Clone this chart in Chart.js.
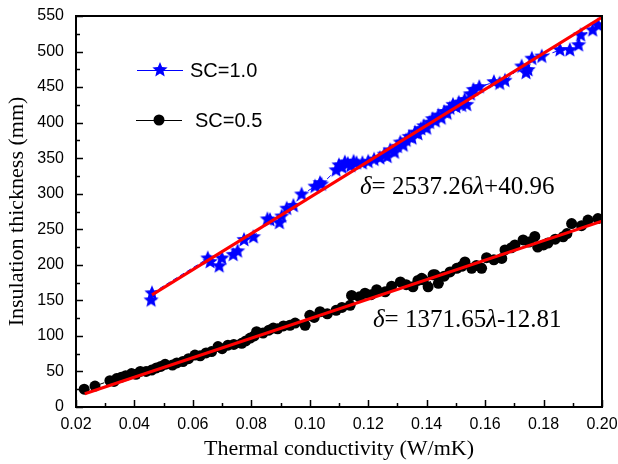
<!DOCTYPE html>
<html>
<head>
<meta charset="utf-8">
<script src="https://cdn.jsdelivr.net/npm/chart.js@4"></script>
<style>
  body { margin: 0; background: #fff; }
  canvas { display: block; }
</style>
</head>
<body>
<canvas id="thick-chart" width="618" height="464"></canvas>
<script>
// SC = 1.0 (blue stars)
const sc1X = [0.0457, 0.0460, 0.0651, 0.0659, 0.0690, 0.0699, 0.0738, 0.0753, 0.0775, 0.0807,
  0.0855, 0.0864, 0.0896, 0.0904, 0.0921, 0.0944, 0.0972, 0.1018, 0.1035, 0.1040,
  0.1090, 0.1100, 0.1110, 0.1120, 0.1130, 0.1140, 0.1150, 0.1160, 0.1180, 0.1200,
  0.1220, 0.1240, 0.1255, 0.1265, 0.1275, 0.1290, 0.1300, 0.1310, 0.1320, 0.1330,
  0.1340, 0.1350, 0.1360, 0.1370, 0.1380, 0.1390, 0.1400, 0.1410, 0.1420, 0.1430,
  0.1440, 0.1450, 0.1460, 0.1470, 0.1480, 0.1490, 0.1500, 0.1510, 0.1520, 0.1530,
  0.1537, 0.1550, 0.1560, 0.1580, 0.1630, 0.1650, 0.1668, 0.1725, 0.1740, 0.1747,
  0.1760, 0.1794, 0.1856, 0.1890, 0.1920, 0.1927, 0.1968, 0.1986];
const sc1Y = [150, 160, 209, 204, 198, 209, 214, 219, 235, 239,
  264, 263, 259, 268, 279, 283, 299, 310, 315, 313,
  333, 340, 337, 344, 342, 339, 345, 343, 343, 345,
  348, 350, 355, 352, 361, 358, 366, 372, 368, 375,
  380, 378, 386, 384, 391, 395, 392, 400, 405, 402,
  410, 406, 415, 413, 420, 425, 422, 428, 424, 432,
  425, 440, 446, 450, 457, 455, 459, 479, 470, 474,
  490, 493, 502, 502, 509, 523, 530, 537];

// SC = 0.5 (black circles)
const sc2X = [0.0228, 0.0265, 0.0316, 0.0330, 0.0339, 0.0355, 0.0370, 0.0390, 0.0405, 0.0420,
  0.0440, 0.0459, 0.0475, 0.0490, 0.0505, 0.0530, 0.0545, 0.0566, 0.0585, 0.0607,
  0.0625, 0.0645, 0.0664, 0.0686, 0.0700, 0.0720, 0.0740, 0.0767, 0.0781, 0.0796,
  0.0810, 0.0818, 0.0840, 0.0860, 0.0875, 0.0890, 0.0910, 0.0932, 0.0950, 0.0984,
  0.1000, 0.1015, 0.1035, 0.1060, 0.1090, 0.1110, 0.1138, 0.1143, 0.1170, 0.1189,
  0.1210, 0.1229, 0.1258, 0.1280, 0.1310, 0.1330, 0.1353, 0.1370, 0.1383, 0.1388,
  0.1405, 0.1422, 0.1429, 0.1440, 0.1460, 0.1480, 0.1503, 0.1520, 0.1531, 0.1554,
  0.1570, 0.1588, 0.1605, 0.1630, 0.1657, 0.1668, 0.1690, 0.1702, 0.1730, 0.1750,
  0.1770, 0.1780, 0.1800, 0.1815, 0.1840, 0.1867, 0.1880, 0.1896, 0.1930, 0.1952, 0.1986];
const sc2Y = [25, 29.5, 37, 36, 40, 42, 44, 47, 46, 50,
  50, 52, 55, 57, 60, 59, 62, 64, 68, 73,
  72, 76, 78, 85, 82, 87, 88, 89.5, 93, 97,
  100, 106, 104, 108, 111, 110, 114, 115, 118, 115,
  129, 126, 134, 131, 136, 140, 143, 157, 155, 160,
  158, 165, 162, 170, 176, 172, 169, 178, 181, 179,
  169, 186, 186, 174, 184, 190, 195, 198, 204, 195,
  199, 195, 210, 207, 209, 221, 224, 228, 235, 232,
  240, 225, 228, 230.7, 236, 239.5, 244, 258, 255, 263, 265];

// linear fits (end points)
const fit1X = [0.046, 0.200];
const fit1Y = [157.7, 548.4];
const fit2X = [0.023, 0.200];
const fit2Y = [18.7, 261.5];

const xTicks = [0.02, 0.04, 0.06, 0.08, 0.10, 0.12, 0.14, 0.16, 0.18, 0.20];
const yTicks = [0, 50, 100, 150, 200, 250, 300, 350, 400, 450, 500, 550];

function pts(xs, ys) {
  return xs.map((x, i) => ({ x: x, y: ys[i] }));
}

// filled star marker
function makeStar(r, color) {
  const c = document.createElement('canvas');
  c.width = c.height = Math.ceil(r * 2 + 2);
  const g = c.getContext('2d');
  const cx = c.width / 2, cy = c.height / 2;
  g.beginPath();
  for (let i = 0; i < 10; i++) {
    const rad = i % 2 === 0 ? r : r * 0.45;
    const a = -Math.PI / 2 + i * Math.PI / 5;
    const px = cx + rad * Math.cos(a), py = cy + rad * Math.sin(a);
    if (i === 0) g.moveTo(px, py); else g.lineTo(px, py);
  }
  g.closePath();
  g.fillStyle = color;
  g.fill();
  return c;
}
const starImg = makeStar(8, '#0000ff');

// frame, inward ticks, legend and equations
const decor = {
  id: 'decor',
  afterDraw(chart) {
    const ctx = chart.ctx;
    const a = chart.chartArea;
    const xs = chart.scales.x, ys = chart.scales.y;
    ctx.save();
    ctx.strokeStyle = '#000';
    ctx.lineWidth = 1.5;
    ctx.beginPath();
    for (let v = 0.02; v <= 0.2001; v += 0.01) {
      const px = Math.round(xs.getPixelForValue(v)) + 0.5;
      const major = Math.round(v * 100) % 2 === 0;
      const len = major ? 7 : 4;
      ctx.moveTo(px, a.bottom); ctx.lineTo(px, a.bottom - len);
    }
    for (let v = 0; v <= 550; v += 25) {
      const py = Math.round(ys.getPixelForValue(v)) + 0.5;
      const len = v % 50 === 0 ? 7 : 4;
      ctx.moveTo(a.left, py); ctx.lineTo(a.left + len, py);
    }
    ctx.stroke();
    ctx.lineWidth = 2;
    ctx.strokeRect(a.left, a.top, a.right - a.left, a.bottom - a.top);

    // legend
    ctx.lineWidth = 1;
    ctx.strokeStyle = '#0000ff';
    ctx.beginPath(); ctx.moveTo(137, 70.5); ctx.lineTo(183, 70.5); ctx.stroke();
    ctx.drawImage(starImg, 160 - starImg.width / 2, 70 - starImg.height / 2);
    ctx.strokeStyle = '#000';
    ctx.beginPath(); ctx.moveTo(136, 120.5); ctx.lineTo(182, 120.5); ctx.stroke();
    ctx.fillStyle = '#000';
    ctx.beginPath(); ctx.arc(159, 120, 5.5, 0, Math.PI * 2); ctx.fill();
    ctx.font = '20px "Liberation Sans", Arial, sans-serif';
    ctx.textBaseline = 'middle';
    ctx.fillText('SC=1.0', 190, 71);
    ctx.fillText('SC=0.5', 195, 121);

    // fit equations
    drawEq(ctx, 360, 187, '2537.26', '+40.96');
    drawEq(ctx, 373, 320, '1371.65', '-12.81');
    ctx.restore();
  }
};

function drawEq(ctx, x, y, k, b) {
  const it = 'italic 25px "Liberation Serif", "Times New Roman", serif';
  const rm = '25px "Liberation Serif", "Times New Roman", serif';
  const parts = [[it, '\u03b4'], [rm, '= ' + k], [it, '\u03bb'], [rm, b]];
  ctx.fillStyle = '#000';
  ctx.textBaseline = 'middle';
  let cx = x;
  parts.forEach(p => {
    ctx.font = p[0];
    ctx.fillText(p[1], cx, y);
    cx += ctx.measureText(p[1]).width;
  });
}

const thickConfig = {
  type: 'scatter',
  data: {
    datasets: [
      {
        label: 'fit SC=1.0',
        data: pts(fit1X, fit1Y),
        showLine: true,
        borderColor: '#ff0000',
        borderWidth: 3,
        pointRadius: 0,
        order: 0
      },
      {
        label: 'fit SC=0.5',
        data: pts(fit2X, fit2Y),
        showLine: true,
        borderColor: '#ff0000',
        borderWidth: 3,
        pointRadius: 0,
        order: 0
      },
      {
        label: 'SC=1.0',
        data: pts(sc1X, sc1Y),
        showLine: true,
        borderColor: '#0000ff',
        borderWidth: 1,
        borderDash: [5, 3],
        pointStyle: starImg,
        order: 1
      },
      {
        label: 'SC=0.5',
        data: pts(sc2X, sc2Y),
        showLine: true,
        borderColor: '#000000',
        borderWidth: 1,
        borderDash: [5, 3],
        pointStyle: 'circle',
        pointRadius: 5.5,
        backgroundColor: '#000000',
        pointBorderWidth: 0,
        order: 1
      }
    ]
  },
  options: {
    responsive: false,
    animation: false,
    layout: { padding: { top: 16, right: 16, left: 0, bottom: 0 } },
    plugins: {
      legend: { display: false },
      tooltip: { enabled: false }
    },
    scales: {
      x: {
        type: 'linear',
        min: 0.02,
        max: 0.20,
        afterFit(s) { s.height = 57; s.paddingLeft = 0; s.paddingRight = 0; },
        afterBuildTicks(s) { s.ticks = xTicks.map(v => ({ value: v })); },
        grid: { display: false, drawTicks: false },
        border: { display: false },
        ticks: {
          color: '#000',
          padding: 8,
          font: { family: '"Liberation Sans", Arial, sans-serif', size: 16 },
          callback: v => v.toFixed(2)
        },
        title: {
          display: true,
          text: 'Thermal conductivity (W/mK)',
          color: '#000',
          padding: { top: 0, bottom: 2 },
          font: { family: '"Liberation Serif", "Times New Roman", serif', size: 22 }
        }
      },
      y: {
        min: 0,
        max: 550,
        afterFit(s) { s.width = 76; s.paddingTop = 0; s.paddingBottom = 0; },
        afterBuildTicks(s) { s.ticks = yTicks.map(v => ({ value: v })); },
        grid: { display: false, drawTicks: false },
        border: { display: false },
        ticks: {
          color: '#000',
          padding: 12,
          font: { family: '"Liberation Sans", Arial, sans-serif', size: 16 }
        },
        title: {
          display: true,
          text: 'Insulation thickness (mm)',
          color: '#000',
          padding: { top: 4, bottom: 0 },
          font: { family: '"Liberation Serif", "Times New Roman", serif', size: 22 }
        }
      }
    }
  },
  plugins: [decor]
};

var thickChart = new Chart(document.getElementById('thick-chart'), thickConfig);
</script>
</body>
</html>
